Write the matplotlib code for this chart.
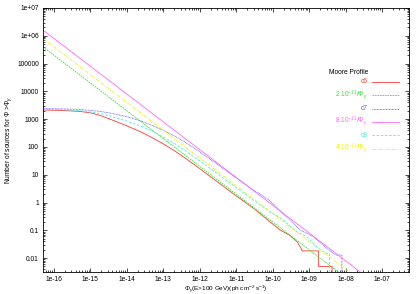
import matplotlib
matplotlib.use("Agg")
import matplotlib.pyplot as plt
import numpy as np
from matplotlib.ticker import FixedLocator, FuncFormatter, NullFormatter

plt.rcParams['font.family'] = ['Liberation Sans', 'DejaVu Sans']
plt.rcParams['mathtext.fontset'] = 'custom'
plt.rcParams['mathtext.rm'] = 'Liberation Sans'
plt.rcParams['mathtext.it'] = 'Liberation Sans:italic'
plt.rcParams['mathtext.sf'] = 'Liberation Sans'

# ---- data (log10 flux, log10 N) ----
c6_logphi = [-16.30, -15.80, -15.30, -15.00, -14.70, -14.50, -14.00, -13.60, -13.30, -13.00,
             -12.70, -12.40, -12.00, -11.50, -11.00, -10.50, -10.07, -9.79, -9.52,
             -9.33, -9.22, -9.19, -8.74, -8.74, -8.37, -8.37]
c6_logn = [3.33, 3.315, 3.28, 3.23, 3.12, 3.02, 2.76, 2.53, 2.33, 2.11,
           1.87, 1.60, 1.22, 0.73, 0.24, -0.23, -0.70, -0.99, -1.19,
           -1.41, -1.65, -1.74, -1.74, -2.30, -2.30, -4.0]

c7_logphi = [-16.30, -15.80, -15.30, -14.80, -14.50, -14.00, -13.60, -13.30, -13.00,
             -12.70, -12.40, -12.00, -11.50, -11.00, -10.50, -10.34, -10.07, -9.80,
             -9.52, -9.24, -8.88, -8.51, -8.28, -8.10, -8.10]
c7_logn = [3.38, 3.37, 3.35, 3.29, 3.23, 3.09, 2.93, 2.77, 2.60,
           2.40, 2.17, 1.82, 1.36, 0.88, 0.42, 0.30, 0.06, -0.30,
           -0.63, -0.99, -1.23, -1.65, -1.89, -1.89, -4.0]

c8_logphi = [-16.30, -15.80, -15.30, -14.80, -14.50, -14.00, -13.60, -13.30, -13.00,
             -12.70, -12.40, -12.00, -11.50, -11.00, -10.50, -10.07, -9.70, -9.50,
             -9.33, -9.06, -8.88, -8.69, -8.51, -8.44, -8.44]
c8_logn = [3.35, 3.34, 3.31, 3.22, 3.13, 2.93, 2.74, 2.57, 2.36,
           2.13, 1.87, 1.50, 1.02, 0.54, 0.06, -0.33, -0.63, -0.88,
           -1.05, -1.23, -1.47, -1.71, -1.83, -1.83, -4.0]

# power-law reference lines: endpoints read at flux 5e-17 and 1e-7
pl_flux = [5e-17, 1e-7]
pl2_n = [4e5, 2e-4]     # 2 10^-11 / Phi
pl8_n = [1.6e6, 8e-4]   # 8 10^-11 / Phi
pl4_n = [8e5, 4e-4]     # 4 10^-11 / Phi

# tick decades shown
x_decades = list(range(-16, -6))   # 1e-16 .. 1e-07
y_decades = list(range(-2, 8))     # 0.01 .. 1e+07

labels = ['c6', r'2 10$^{-11}$/$\Phi_\gamma$', 'c7',
          r'8 10$^{-11}$/$\Phi_\gamma$', 'c8', r'4 10$^{-11}$/$\Phi_\gamma$']
colors = ['#ff3838', '#30e830', '#5a5aff', '#ff66ff', '#40f0f0', '#f2f200']
styles = ['-', (0, (2, 1)), (0, (1, 0.8)), '-', (0, (3, 2)), (0, (4, 1.5, 1, 1.5))]

fig = plt.figure(figsize=(4.2, 2.94), dpi=100)
ax = fig.add_axes([43/420, 22/294, 366/420, 264/294])

series = [
    (10**np.array(c6_logphi), 10**np.array(c6_logn)),
    (np.array(pl_flux), np.array(pl2_n)),
    (10**np.array(c7_logphi), 10**np.array(c7_logn)),
    (np.array(pl_flux), np.array(pl8_n)),
    (10**np.array(c8_logphi), 10**np.array(c8_logn)),
    (np.array(pl_flux), np.array(pl4_n)),
]
lw = 0.6
for (x, y), c, ls in zip(series, colors, styles):
    ax.plot(x, y, color=c, ls=ls, lw=lw)

ax.set_xscale('log')
ax.set_yscale('log')
xlo, xhi = 10**-16.30, 10**-6.26
ylo, yhi = 10**-2.5, 1e7
ax.set_xlim(xlo, xhi)
ax.set_ylim(ylo, yhi)


def minors(lo, hi, d0, d1):
    out = []
    for d in range(d0, d1 + 1):
        for m in range(2, 10):
            v = m * 10.0**d
            if lo <= v <= hi:
                out.append(v)
    return out


ax.xaxis.set_major_locator(FixedLocator([10.0**d for d in x_decades]))
ax.yaxis.set_major_locator(FixedLocator([10.0**d for d in y_decades]))
ax.xaxis.set_minor_locator(FixedLocator(minors(xlo, xhi, -17, -7)))
ax.yaxis.set_minor_locator(FixedLocator(minors(ylo, yhi, -3, 6)))
fmt = FuncFormatter(lambda v, p: '%g' % v)
ax.xaxis.set_major_formatter(fmt)
ax.yaxis.set_major_formatter(fmt)
ax.xaxis.set_minor_formatter(NullFormatter())
ax.yaxis.set_minor_formatter(NullFormatter())
ax.tick_params(which='both', direction='in', top=True, right=True, labelsize=4.8,
               width=0.5, colors='black')
ax.tick_params(which='major', length=3)
ax.tick_params(which='minor', length=1.5)
ax.tick_params(axis='x', pad=3)
ax.tick_params(axis='y', pad=3)
for s in ax.spines.values():
    s.set_linewidth(0.6)

ax.set_xlabel(r'$\Phi_\gamma$(E>100 GeV)(ph cm$^{-2}$ s$^{-1}$)', fontsize=4.6, labelpad=0)
ax.set_ylabel(r'Number of sources for $\Phi$ >$\Phi_\gamma$', fontsize=4.8, labelpad=2.5)

# legend (gnuplot style: right-aligned coloured labels, sample to the right)
ax.text(0.888, 0.755, 'Moore Profile', transform=ax.transAxes, fontsize=4.8,
        ha='right', va='center')
rows = [0.720, 0.670, 0.619, 0.569, 0.518, 0.467]
for lab, c, ls, yy in zip(labels, colors, styles, rows):
    ax.text(0.888, yy, lab, transform=ax.transAxes, fontsize=4.8, color=c,
            ha='right', va='center')
    ax.plot([0.899, 0.973], [yy, yy], transform=ax.transAxes, color=c, ls=ls, lw=lw)

fig.savefig('out.png', dpi=100)
